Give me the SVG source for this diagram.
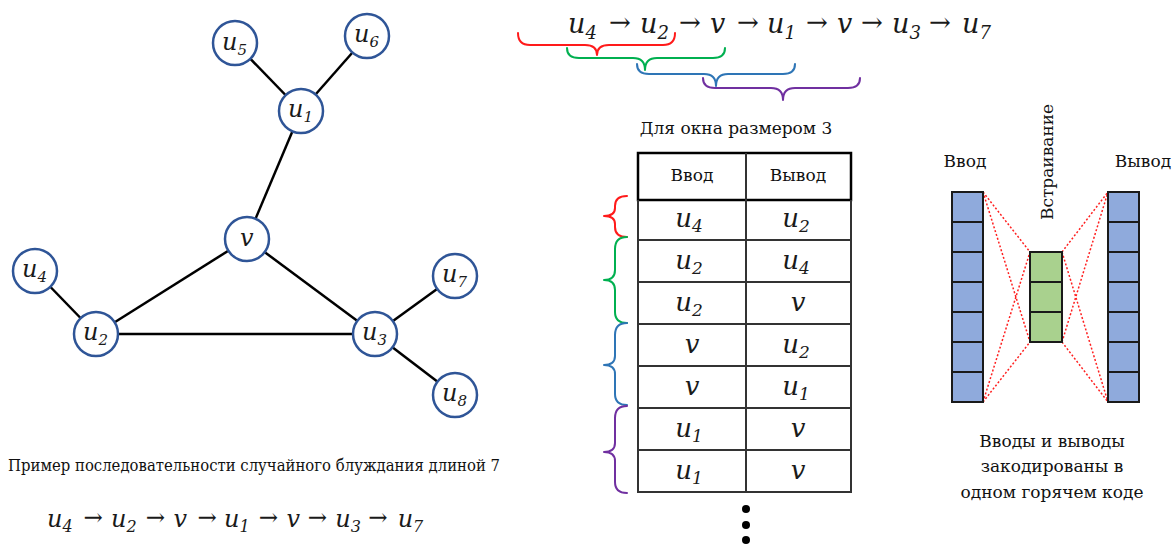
<svg xmlns="http://www.w3.org/2000/svg" width="1175" height="544" viewBox="0 0 1175 544">
<style>
.node circle{fill:#fff;stroke:#2F5597;stroke-width:2.5}
.edge{stroke:#000;stroke-width:2.5}
.brace{fill:none;stroke-width:2;stroke-linecap:round;stroke-linejoin:round}
.grid{stroke:#333;stroke-width:2;fill:none}
.blue{fill:#8FAADC;stroke:#1a1a1a;stroke-width:2}
.green{fill:#A9D18E;stroke:#1a1a1a;stroke-width:2}
.dot{stroke:#FF2020;stroke-width:1.5;stroke-dasharray:2 2}
.ser{font-family:"DejaVu Serif","Liberation Serif",serif}
.ar{font-style:normal;font-size:26px}
</style>
<defs>
<g id="seq" class="ser" font-style="italic" font-size="27" fill="#1a1a1a">
<text x="0" y="0">u<tspan font-size="18" dy="6">4</tspan></text>
<text class="ar" x="41" y="-2">→</text>
<text x="72" y="0">u<tspan font-size="18" dy="6">2</tspan></text>
<text class="ar" x="111" y="-2">→</text>
<text x="142" y="0">v</text>
<text class="ar" x="169" y="-2">→</text>
<text x="199" y="0">u<tspan font-size="18" dy="6">1</tspan></text>
<text class="ar" x="238" y="-2">→</text>
<text x="269" y="0">v</text>
<text class="ar" x="293" y="-2">→</text>
<text x="324" y="0">u<tspan font-size="18" dy="6">3</tspan></text>
<text class="ar" x="361" y="-2">→</text>
<text x="394" y="0">u<tspan font-size="18" dy="6">7</tspan></text>
</g>
</defs>

<g id="edges">
<line class="edge" x1="235" y1="43" x2="301" y2="111"/>
<line class="edge" x1="367" y1="36" x2="301" y2="111"/>
<line class="edge" x1="301" y1="111" x2="247" y2="239"/>
<line class="edge" x1="247" y1="239" x2="96" y2="334"/>
<line class="edge" x1="247" y1="239" x2="375" y2="334"/>
<line class="edge" x1="96" y1="334" x2="375" y2="334"/>
<line class="edge" x1="35" y1="271" x2="96" y2="334"/>
<line class="edge" x1="375" y1="334" x2="455" y2="276"/>
<line class="edge" x1="375" y1="334" x2="455" y2="395"/>
</g>

<g class="ser" font-style="italic" font-size="24" fill="#1a1a1a">
<g id="n-u5" class="node"><circle cx="235" cy="43" r="22"/><text x="222" y="50">u<tspan font-size="15" dy="5">5</tspan></text></g>
<g id="n-u6" class="node"><circle cx="367" cy="36" r="22"/><text x="354" y="42">u<tspan font-size="15" dy="5">6</tspan></text></g>
<g id="n-u1" class="node"><circle cx="301" cy="111" r="22"/><text x="288" y="117">u<tspan font-size="15" dy="5">1</tspan></text></g>
<g id="n-v" class="node"><circle cx="247" cy="239" r="22"/><text x="240" y="246">v</text></g>
<g id="n-u4" class="node"><circle cx="35" cy="271" r="22"/><text x="22" y="277">u<tspan font-size="15" dy="5">4</tspan></text></g>
<g id="n-u2" class="node"><circle cx="96" cy="334" r="22"/><text x="83" y="340">u<tspan font-size="15" dy="5">2</tspan></text></g>
<g id="n-u3" class="node"><circle cx="375" cy="334" r="22"/><text x="362" y="340">u<tspan font-size="15" dy="5">3</tspan></text></g>
<g id="n-u7" class="node"><circle cx="455" cy="276" r="22"/><text x="442" y="282">u<tspan font-size="15" dy="5">7</tspan></text></g>
<g id="n-u8" class="node"><circle cx="455" cy="395" r="22"/><text x="442" y="401">u<tspan font-size="15" dy="5">8</tspan></text></g>
</g>

<g class="ser" font-size="17" fill="#111">
<text x="8" y="471" textLength="492" lengthAdjust="spacingAndGlyphs">Пример последовательности случайного блуждания длиной 7</text>
<text x="736" y="134" text-anchor="middle">Для окна размером 3</text>
<text x="692" y="181" text-anchor="middle">Ввод</text>
<text x="798" y="181" text-anchor="middle">Вывод</text>
<text x="965" y="167" text-anchor="middle">Ввод</text>
<text x="1143" y="167" text-anchor="middle">Вывод</text>
<text transform="translate(1053,162) rotate(-90)" text-anchor="middle">Встраивание</text>
<text x="1052" y="447" text-anchor="middle">Вводы и выводы</text>
<text x="1052" y="472" text-anchor="middle">закодированы в</text>
<text x="1052" y="498" text-anchor="middle">одном горячем коде</text>
</g>

<use href="#seq" transform="translate(47,527) scale(0.89)"/>
<use href="#seq" transform="translate(568,33)"/>

<g id="braces-top">
<path class="brace" stroke="#FF1A1A" d="M518,33 Q518,45 530,45 L585,45 Q597,45 597,55 Q597,45 609,45 L663,45 Q675,45 675,33"/>
<path class="brace" stroke="#00B050" d="M567,48 Q567,58 579,58 L633,58 Q645,58 645,70 Q645,58 657,58 L713,58 Q725,58 725,48"/>
<path class="brace" stroke="#2E75B6" d="M637,64 Q637,74 649,74 L704,74 Q716,74 716,86 Q716,74 728,74 L783,74 Q795,74 795,64"/>
<path class="brace" stroke="#7030A0" d="M703,78 Q703,88 715,88 L771,88 Q783,88 783,100 Q783,88 795,88 L848,88 Q860,88 860,78"/>
</g>

<g id="table">
<rect x="638" y="153" width="213" height="47" fill="none" stroke="#000" stroke-width="2.5"/>
<line class="grid" x1="746" y1="153" x2="746" y2="492"/>
<path class="grid" d="M638,200 V492 H851 V200 M638,240 H851 M638,282 H851 M638,324 H851 M638,366 H851 M638,408 H851 M638,450 H851"/>
<g class="ser" font-style="italic" font-size="26" fill="#1a1a1a" text-anchor="middle">
<text x="689" y="227">u<tspan font-size="17" dy="5">4</tspan></text>
<text x="796" y="227">u<tspan font-size="17" dy="5">2</tspan></text>
<text x="689" y="269">u<tspan font-size="17" dy="5">2</tspan></text>
<text x="796" y="269">u<tspan font-size="17" dy="5">4</tspan></text>
<text x="689" y="311">u<tspan font-size="17" dy="5">2</tspan></text>
<text x="798" y="311">v</text>
<text x="692" y="353">v</text>
<text x="796" y="353">u<tspan font-size="17" dy="5">2</tspan></text>
<text x="692" y="395">v</text>
<text x="796" y="395">u<tspan font-size="17" dy="5">1</tspan></text>
<text x="689" y="437">u<tspan font-size="17" dy="5">1</tspan></text>
<text x="798" y="437">v</text>
<text x="689" y="479">u<tspan font-size="17" dy="5">1</tspan></text>
<text x="798" y="479">v</text>
</g>
<circle cx="746" cy="509" r="4" fill="#000"/>
<circle cx="746" cy="525" r="4" fill="#000"/>
<circle cx="746" cy="540" r="4" fill="#000"/>
</g>
<g id="braces-left">
<path class="brace" stroke="#FF1A1A" d="M627,196 Q615,196 615,206 L615,208 Q615,216 604,216 Q615,216 615,224 L615,227 Q615,237 627,237"/>
<path class="brace" stroke="#00B050" d="M627,237 Q615,237 615,249 L615,270 Q615,280 604,280 Q615,280 615,290 L615,312 Q615,323 627,323"/>
<path class="brace" stroke="#2E75B6" d="M627,323 Q615,323 615,335 L615,356 Q615,365 604,365 Q615,365 615,374 L615,394 Q615,405 627,405"/>
<path class="brace" stroke="#7030A0" d="M627,406 Q615,406 615,418 L615,443 Q615,452 604,452 Q615,452 615,461 L615,482 Q615,493 627,493"/>
</g>

<g id="net-lines">
<line class="dot" x1="983" y1="192" x2="1030" y2="252"/>
<line class="dot" x1="983" y1="192" x2="1030" y2="342"/>
<line class="dot" x1="983" y1="402" x2="1030" y2="252"/>
<line class="dot" x1="983" y1="402" x2="1030" y2="342"/>
<line class="dot" x1="1062" y1="252" x2="1108" y2="192"/>
<line class="dot" x1="1062" y1="252" x2="1108" y2="402"/>
<line class="dot" x1="1062" y1="342" x2="1108" y2="192"/>
<line class="dot" x1="1062" y1="342" x2="1108" y2="402"/>
</g>
<g id="input-layer">
<rect class="blue" x="952" y="192" width="31" height="30"/>
<rect class="blue" x="952" y="222" width="31" height="30"/>
<rect class="blue" x="952" y="252" width="31" height="30"/>
<rect class="blue" x="952" y="282" width="31" height="30"/>
<rect class="blue" x="952" y="312" width="31" height="30"/>
<rect class="blue" x="952" y="342" width="31" height="30"/>
<rect class="blue" x="952" y="372" width="31" height="30"/>
</g>
<g id="output-layer">
<rect class="blue" x="1108" y="192" width="31" height="30"/>
<rect class="blue" x="1108" y="222" width="31" height="30"/>
<rect class="blue" x="1108" y="252" width="31" height="30"/>
<rect class="blue" x="1108" y="282" width="31" height="30"/>
<rect class="blue" x="1108" y="312" width="31" height="30"/>
<rect class="blue" x="1108" y="342" width="31" height="30"/>
<rect class="blue" x="1108" y="372" width="31" height="30"/>
</g>
<g id="embedding-layer">
<rect class="green" x="1030" y="252" width="32" height="30"/>
<rect class="green" x="1030" y="282" width="32" height="30"/>
<rect class="green" x="1030" y="312" width="32" height="30"/>
</g>
</svg>
